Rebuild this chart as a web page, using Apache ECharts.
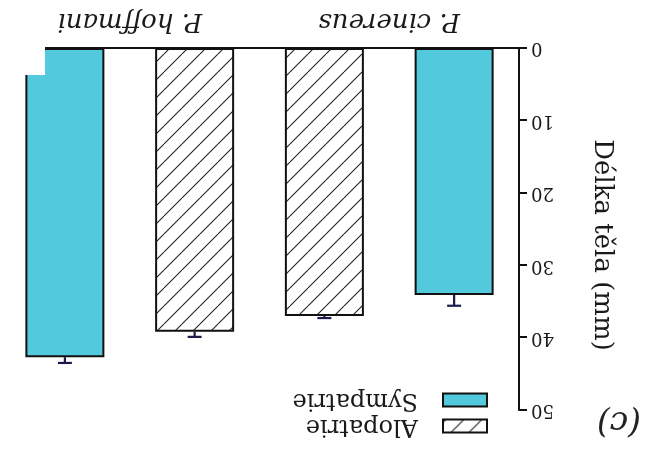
<!DOCTYPE html>
<html><head><meta charset="utf-8">
<script src="https://cdn.jsdelivr.net/npm/echarts@6/dist/echarts.min.js"></script>
<style>html,body{margin:0;padding:0;background:#fff;overflow:hidden}#c{width:650px;height:450px;transform:rotate(180deg);}</style>
</head><body><div id="c"></div>
<script>
const categories = ['cin-sym', 'cin-alo', 'hof-alo', 'hof-sym'];
const groupLabels = ['P. cinereus', 'P. hoffmani'];
const sympatrie = [34.1, null, null, 42.7];
const alopatrie = [null, 37.0, 39.2, null];
const errSym = [1.5, null, null, 0.8];
const errAlo = [null, 0.3, 0.7, null];
const yMin = 0, yMax = 50, yStep = 10;

const FONT = 'DejaVu Serif';
function hatch() {
  const s = 18, c = document.createElement('canvas');
  c.width = s; c.height = s;
  const g = c.getContext('2d');
  g.fillStyle = '#fff'; g.fillRect(0, 0, s, s);
  g.strokeStyle = '#222'; g.lineWidth = 1.1;
  for (const o of [-s, 0, s]) { g.beginPath(); g.moveTo(o, s); g.lineTo(o + s, 0); g.stroke(); }
  return c;
}
const hatchPattern = { image: hatch(), repeat: 'repeat' };
const cyan = '#52c9dc';

const errData = [];
categories.forEach((c, i) => {
  if (sympatrie[i] != null) errData.push([i, sympatrie[i], errSym[i]]);
  if (alopatrie[i] != null) errData.push([i, alopatrie[i], errAlo[i]]);
});

const chart = echarts.init(document.getElementById('c'));
chart.setOption({
  animation: false,
  title: { text: '(c)', left: 4, top: 8, textStyle: { fontFamily: FONT, fontStyle: 'italic', fontWeight: 'normal', fontSize: 33, color: '#222' } },
  legend: {
    data: ['Alopatrie', 'Sympatrie'], orient: 'vertical', left: 157, top: 7, itemWidth: 44, itemHeight: 13, itemGap: 2,
    icon: 'rect',
    textStyle: { fontFamily: FONT, fontSize: 24, color: '#1a1a1a', lineHeight: 16, padding: [0, 0, 0, 20] }
  },
  grid: { left: 131, right: -5, top: 40, bottom: 48, containLabel: false },
  xAxis: [
    { type: 'category', data: categories, axisLine: { lineStyle: { color: '#111', width: 2 } }, axisTick: { show: false }, axisLabel: { show: false } },
    { type: 'category', data: groupLabels, position: 'bottom', axisLine: { show: false }, axisTick: { show: false },
      axisLabel: { margin: 14, fontFamily: FONT, fontStyle: 'italic', fontSize: 26, color: '#1a1a1a' } }
  ],
  yAxis: {
    type: 'value', min: yMin, max: yMax, interval: yStep,
    name: 'Délka těla (mm)', nameLocation: 'middle', nameGap: 70, nameRotate: 90,
    nameTextStyle: { fontFamily: FONT, fontSize: 26, color: '#1a1a1a', padding: [0, 0, 0, 32] },
    axisLine: { show: true, lineStyle: { color: '#111', width: 2 } },
    axisTick: { show: true, length: 8, lineStyle: { color: '#111', width: 2 } },
    axisLabel: { margin: 12, fontFamily: FONT, fontSize: 18, color: '#1a1a1a' },
    splitLine: { show: false }
  },
  series: [
    { name: 'Alopatrie', type: 'bar', data: alopatrie, barWidth: 79, barGap: '-100%',
      itemStyle: { color: hatchPattern, borderColor: '#111', borderWidth: 2 } },
    { name: 'Sympatrie', type: 'bar', data: sympatrie, barWidth: 79, barGap: '-100%',
      itemStyle: { color: cyan, borderColor: '#111', borderWidth: 2 } },
    { name: 'err', type: 'custom', data: errData, z: 5,
      renderItem: (params, api) => {
        const x = api.value(0), v = api.value(1), e = api.value(2);
        const p0 = api.coord([x, v]), p1 = api.coord([x, v + e]);
        const st = { stroke: '#1c1c4a', lineWidth: 2.2 };
        return { type: 'group', children: [
          { type: 'line', shape: { x1: p0[0], y1: p0[1], x2: p1[0], y2: p1[1] }, style: st },
          { type: 'line', shape: { x1: p1[0] - 7, y1: p1[1], x2: p1[0] + 7, y2: p1[1] }, style: st }
        ] };
      } }
  ],
  graphic: [{ type: 'rect', shape: { x: 605, y: 375, width: 45, height: 75 }, style: { fill: '#fff' }, z: 100 }]
});
</script></body></html>
